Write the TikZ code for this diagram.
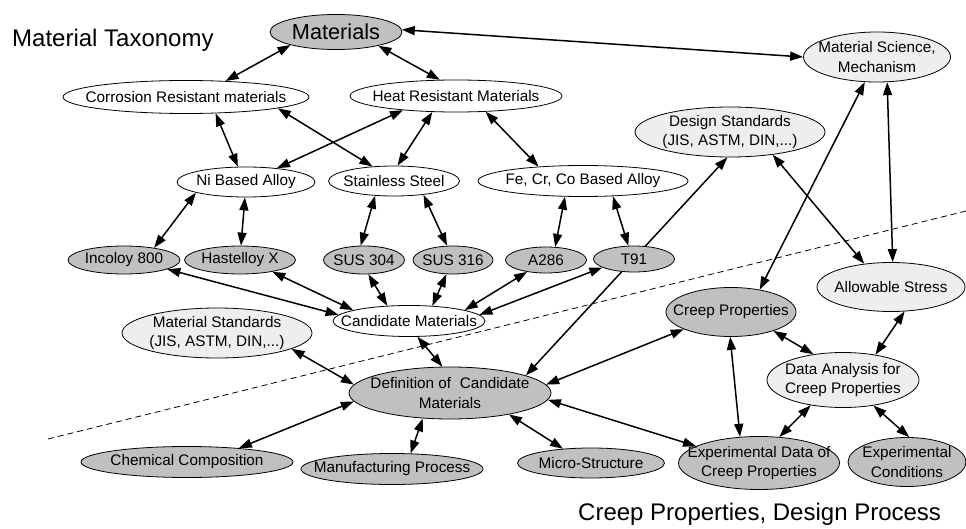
\documentclass[tikz,border=0pt]{standalone}
\usepackage{fontspec}
\setmainfont{Liberation Sans}
\usetikzlibrary{arrows.meta, shapes.geometric, backgrounds}
\definecolor{dkgray}{HTML}{C0C0C0}
\definecolor{ltgray}{HTML}{EEEEEE}
\tikzset{
  el/.style  ={ellipse, draw, line width=0.8pt, align=center, inner xsep=-130pt, inner ysep=-40pt, font=\fontsize{15.3}{19.5}\selectfont},
  wt/.style  ={el, fill=white},
  dk/.style  ={el, fill=dkgray},
  lt/.style  ={el, fill=ltgray},
  sz/.style 2 args={minimum width=#1pt, minimum height=#2pt},
  ttl/.style ={font=\fontsize{24}{28}\selectfont, inner sep=0pt, anchor=base west},
  fl2/.style ={{Triangle[length=13pt,width=9pt]}-{Triangle[length=13pt,width=9pt]}, line width=1.5pt},
  sep/.style ={line width=0.8pt, dash pattern=on 6pt off 4pt},
}
\begin{document}
\begin{tikzpicture}[x=1pt, y=-1pt]
  \useasboundingbox (0,0) rectangle (966,529);
  \node[ttl] (ttax) at (12,47) {Material Taxonomy};
  \node[ttl] (tcrp) at (578,520) {Creep Properties, Design Process};
  \node[dk, sz={132}{35}, font=\fontsize{21.7}{26}\selectfont] (mat) at (336,32) {Materials};
  \node[wt, sz={246}{33}] (cor) at (186,97) {Corrosion Resistant materials};
  \node[wt, sz={212}{32}] (heat) at (456,96) {Heat Resistant Materials};
  \node[wt, sz={138}{30}] (ni) at (246,182) {Ni Based Alloy};
  \node[wt, sz={131}{30}] (sst) at (394,181) {Stainless Steel};
  \node[wt, sz={210}{31}] (fcc) at (583,181) {Fe, Cr, Co Based Alloy};
  \node[lt, sz={147}{50}] (msci) at (877,57) {Material Science,\\Mechanism};
  \node[lt, sz={190}{50}] (dstd) at (730,132) {Design Standards\\(JIS, ASTM, DIN,...)};
  \node[dk, sz={112}{28}] (inc) at (124,260) {Incoloy 800};
  \node[dk, sz={111}{28}] (hast) at (240,260) {Hastelloy X};
  \node[dk, sz={81}{28}] (s304) at (364,260) {SUS 304};
  \node[dk, sz={80}{28}] (s316) at (453,260) {SUS 316};
  \node[dk, sz={81}{26}] (a286) at (546,260) {A286};
  \node[dk, sz={81}{26}] (t91) at (634,259) {T91};
  \node[wt, sz={152}{31}] (cand) at (409,321) {Candidate Materials};
  \node[lt, sz={190}{50}] (mstd) at (217,333) {Material Standards\\(JIS, ASTM, DIN,...)};
  \node[lt, sz={148}{49}] (allow) at (891,287) {Allowable Stress};
  \node[dk, sz={130}{49}] (creep) at (731,312) {Creep Properties};
  \node[lt, sz={152}{55}] (dana) at (843,380) {Data Analysis for\\Creep Properties};
  \node[dk, sz={202}{52}] (defn) at (450,393) {Definition of\ \ Candidate\\Materials};
  \node[dk, sz={212}{31}] (chem) at (187,462) {Chemical Composition};
  \node[dk, sz={182}{31}] (manu) at (392,469) {Manufacturing Process};
  \node[dk, sz={147}{30}] (micro) at (591,463) {Micro-Structure};
  \node[dk, sz={161}{53}] (expd) at (759,463) {Experimental Data of\\Creep Properties};
  \node[dk, sz={118}{49}] (expc) at (907,462) {Experimental\\Conditions};
  \coordinate (dl) at (48,439);
  \coordinate (dr) at (966,211);
  \begin{scope}[on background layer]
    \draw[sep] (dl) -- (dr);
    \draw[fl2] (mat.196) -- (cor.22);
    \draw[fl2] (mat.-18) -- (heat.135);
    \draw[fl2] (mat.2) -- (msci.180);
    \draw[fl2] (cor.-29) -- (ni.118);
    \draw[fl2] (cor.-7) -- (sst.146);
    \draw[fl2] (heat.195) -- (ni.24);
    \draw[fl2] (heat.214) -- (sst.77);
    \draw[fl2] (heat.-28) -- (fcc.162);
    \draw[fl2] (ni.192) -- (inc.22);
    \draw[fl2] (ni.266) -- (hast.86);
    \draw[fl2] (sst.218) -- (s304.103);
    \draw[fl2] (sst.-25) -- (s316.113);
    \draw[fl2] (fcc.221) -- (a286.55);
    \draw[fl2] (fcc.-27) -- (t91.113);
    \draw[fl2] (inc.-12) -- (cand.175);
    \draw[fl2] (hast.-20) -- (cand.169);
    \draw[fl2] (s304.-73) -- (cand.145);
    \draw[fl2] (s316.245) -- (cand.33);
    \draw[fl2] (a286.212) -- (cand.11);
    \draw[fl2] (t91.195) -- (cand.5);
    \draw[fl2] (cand.-62) -- (defn.106);
    \draw[fl2] (mstd.-12) -- (defn.175);
    \draw[fl2] (defn.13) -- (dstd.264);
    \draw[fl2] (creep.38) -- (msci.244);
    \draw[fl2] (dstd.-28) -- (allow.139);
    \draw[fl2] (msci.-68) -- (allow.86);
    \draw[fl2] (allow.-61) -- (dana.38);
    \draw[fl2] (creep.-24) -- (dana.139);
    \draw[fl2] (creep.200) -- (defn.5);
    \draw[fl2] (creep.268) -- (expd.126);
    \draw[fl2] (dana.218) -- (expd.52);
    \draw[fl2] (dana.-40) -- (expc.85);
    \draw[fl2] (defn.185) -- (chem.15);
    \draw[fl2] (defn.223) -- (manu.40);
    \draw[fl2] (defn.-20) -- (micro.153);
    \draw[fl2] (defn.-4) -- (expd.165);
  \end{scope}
\end{tikzpicture}
\end{document}
